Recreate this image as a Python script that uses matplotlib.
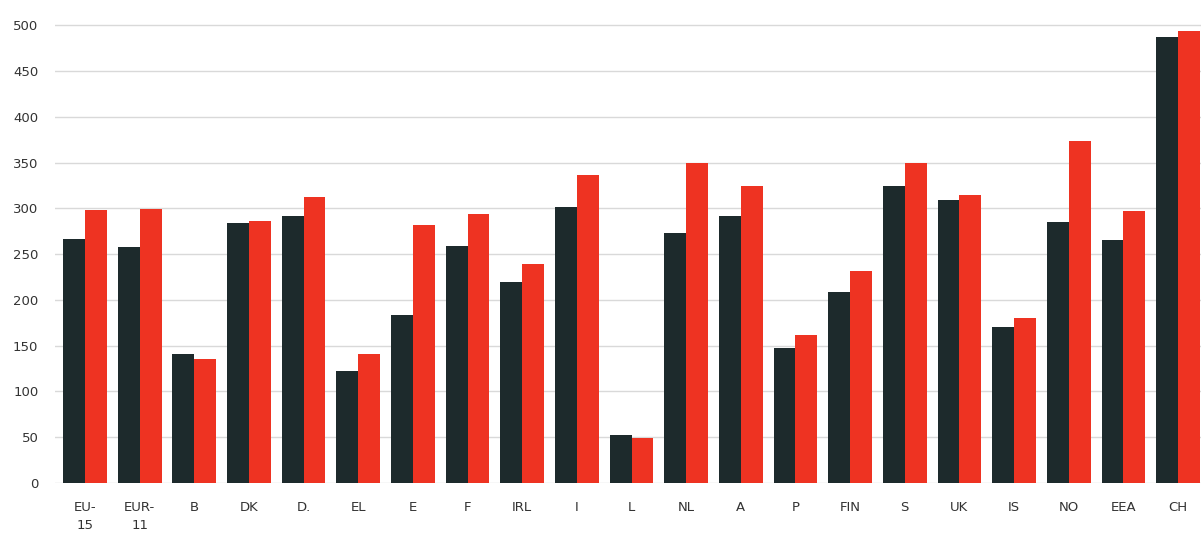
import numpy as np
import matplotlib
matplotlib.use("Agg")
import matplotlib.pyplot as plt

# Categories and the two series
paises = ["EU-\n15", "EUR-\n11", "B", "DK", "D.", "EL", "E", "F", "IRL", "I", "L",
          "NL", "A", "P", "FIN", "S", "UK", "IS", "NO", "EEA", "CH"]
serie_escura = [267, 258, 141, 284, 292, 122, 183, 259, 220, 301, 52,
                273, 292, 147, 209, 324, 309, 170, 285, 265, 487]
serie_vermelha = [298, 299, 135, 286, 312, 141, 282, 294, 239, 337, 49,
                  350, 324, 162, 232, 350, 315, 180, 374, 297, 494]
ticks_y = [0, 50, 100, 150, 200, 250, 300, 350, 400, 450, 500]

cor_escura = "#1d2a2c"
cor_vermelha = "#ee3322"

fig = plt.figure(figsize=(12.01, 5.47), dpi=100)
W, H = 1201, 547
# eixo posicionado em pixels: esquerda 55, base 483
ax = fig.add_axes([55 / W, (H - 483) / H, (W - 55) / W, 476 / H])

x = np.arange(len(paises))
larg = 0.4
ax.bar(x - larg / 2, serie_escura, width=larg, color=cor_escura, zorder=3)
ax.bar(x + larg / 2, serie_vermelha, width=larg, color=cor_vermelha, zorder=3)

ax.set_xlim(-0.549, 20.42)
ax.set_ylim(0, 520)
ax.set_yticks(ticks_y)
ax.set_yticklabels([str(t) for t in ticks_y])
ax.set_xticks(x)
ax.set_xticklabels(paises, linespacing=1.45, va="top")

ax.grid(axis="y", color="#d9d9d9", linewidth=1.0, zorder=0)
for s in ax.spines.values():
    s.set_visible(False)
ax.tick_params(axis="y", length=0, pad=12, labelsize=9.5, labelcolor="#333333")
ax.tick_params(axis="x", length=0, pad=13, labelsize=9.5, labelcolor="#333333")

fig.savefig("out.png", dpi=100)
